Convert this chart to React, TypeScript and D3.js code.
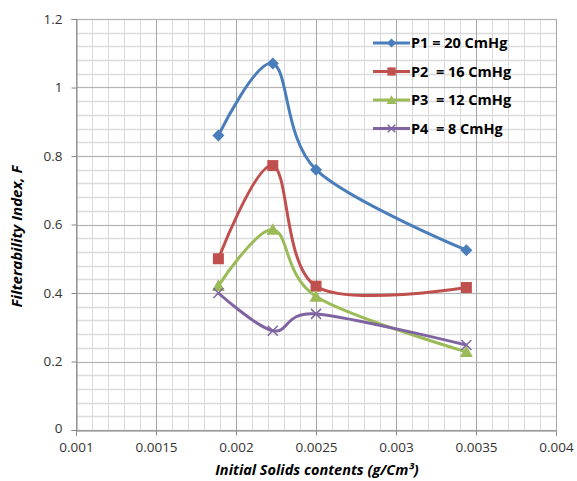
import React, { useEffect, useRef } from 'react'
import * as d3 from 'd3'

// initial solids contents (g/Cm3), shared by all series
const solids = [0.00189, 0.00223, 0.0025, 0.00344]

const p1 = [0.86, 1.07, 0.76, 0.525]
const p2 = [0.5, 0.772, 0.42, 0.416]
const p3 = [0.421, 0.585, 0.39, 0.228]
const p4 = [0.4, 0.29, 0.339, 0.248]

const seriesNames = ['P1 = 20 CmHg', 'P2  = 16 CmHg', 'P3  = 12 CmHg', 'P4  = 8 CmHg']
const seriesColors = ['#4a7ebb', '#c0504d', '#9bbb59', '#8064a2']
const seriesMarkers = ['diamond', 'square', 'triangle', 'cross']

const xTicks = [0.001, 0.0015, 0.002, 0.0025, 0.003, 0.0035, 0.004]
const xTickLabels = ['0.001', '0.0015', '0.002', '0.0025', '0.003', '0.0035', '0.004']
const yTicks = [0, 0.2, 0.4, 0.6, 0.8, 1, 1.2]
const yTickLabels = ['0', '0.2', '0.4', '0.6', '0.8', '1', '1.2']

const W = 577
const H = 481
const margin = { top: 19, right: 21, bottom: 51, left: 76 }
const FONT = '"Open Sans", "Noto Sans", sans-serif'

const App = () => {
  const ref = useRef<SVGSVGElement>(null)

  useEffect(() => {
    draw()
  })

  const draw = () => {
    const svg = d3.select(ref.current)
    svg.selectAll('*').remove()

    const width = W - margin.left - margin.right
    const height = H - margin.top - margin.bottom

    const x = d3.scaleLinear().domain([0.001, 0.004]).range([margin.left, margin.left + width])
    const y = d3.scaleLinear().domain([0, 1.2]).range([margin.top + height, margin.top])

    // minor grid
    const minorX = d3.range(0, 31).map((i) => 0.001 + i * 0.0001)
    const minorY = d3.range(0, 31).map((i) => i * 0.04)
    const grid = svg.append('g')
    grid
      .selectAll('line.mx')
      .data(minorX)
      .enter()
      .append('line')
      .attr('x1', (d) => Math.round(x(d)) + 0.5)
      .attr('x2', (d) => Math.round(x(d)) + 0.5)
      .attr('y1', y(0))
      .attr('y2', y(1.2))
      .attr('stroke', '#d9d9d9')
    grid
      .selectAll('line.my')
      .data(minorY)
      .enter()
      .append('line')
      .attr('x1', x(0.001))
      .attr('x2', x(0.004))
      .attr('y1', (d) => Math.round(y(d)) + 0.5)
      .attr('y2', (d) => Math.round(y(d)) + 0.5)
      .attr('stroke', '#dcdcdc')
      .attr('stroke-width', 1.5)
    // major grid
    grid
      .selectAll('line.Mx')
      .data(xTicks)
      .enter()
      .append('line')
      .attr('x1', (d) => Math.round(x(d)) + 0.5)
      .attr('x2', (d) => Math.round(x(d)) + 0.5)
      .attr('y1', y(0))
      .attr('y2', y(1.2))
      .attr('stroke', '#a6a6a6')
    grid
      .selectAll('line.My')
      .data(yTicks)
      .enter()
      .append('line')
      .attr('x1', x(0.001))
      .attr('x2', x(0.004))
      .attr('y1', (d) => Math.round(y(d)) + 0.5)
      .attr('y2', (d) => Math.round(y(d)) + 0.5)
      .attr('stroke', '#b3b3b3')

    // axes
    const xAxis = svg
      .append('g')
      .attr('transform', `translate(0,${Math.round(y(0)) + 0.5})`)
      .call(
        d3
          .axisBottom(x)
          .tickValues(xTicks)
          .tickFormat((_, i) => xTickLabels[i])
          .tickSize(5)
          .tickPadding(7)
      )
    const yAxis = svg
      .append('g')
      .attr('transform', `translate(${Math.round(x(0.001)) + 0.5},0)`)
      .call(
        d3
          .axisLeft(y)
          .tickValues(yTicks)
          .tickFormat((_, i) => yTickLabels[i])
          .tickSize(5)
          .tickPadding(9)
      )
    ;[xAxis, yAxis].forEach((a) => {
      a.select('.domain').attr('stroke', '#868686')
      a.selectAll('.tick line').attr('stroke', '#868686')
      a.selectAll('text')
        .attr('font-family', FONT)
        .attr('font-size', 13.5)
        .attr('fill', '#333')
    })
    // the lowest y label sits a touch higher so it clears the first x label
    yAxis.select('.tick text').attr('dy', '0.2em')

    // series
    const all = [p1, p2, p3, p4]
    const line = d3
      .line<number>()
      .x((_, i) => x(solids[i]))
      .y((d) => y(d))
      .curve(d3.curveCatmullRom.alpha(0))

    all.forEach((vals, si) => {
      const c = seriesColors[si]
      svg
        .append('path')
        .attr('d', line(vals))
        .attr('fill', 'none')
        .attr('stroke', c)
        .attr('stroke-width', 3)
      const g = svg.append('g')
      vals.forEach((v, i) => {
        drawMarker(g, seriesMarkers[si], x(solids[i]), y(v), c, 1)
      })
    })

    // legend
    const lg = svg.append('g')
    seriesNames.forEach((name, i) => {
      const ly = 43 + i * 28.5
      lg.append('line')
        .attr('x1', 373)
        .attr('x2', 410)
        .attr('y1', ly)
        .attr('y2', ly)
        .attr('stroke', seriesColors[i])
        .attr('stroke-width', 3)
      drawMarker(lg, seriesMarkers[i], 391.5, ly, seriesColors[i], 0.75)
      lg.append('text')
        .attr('x', 411)
        .attr('y', ly + 5)
        .attr('font-family', FONT)
        .attr('font-size', 14.5)
        .attr('font-weight', 'bold')
        .attr('fill', '#000')
        .style('white-space', 'pre')
        .text(name)
    })

    // axis titles
    svg
      .append('text')
      .attr('x', x(0.0025) + 1)
      .attr('y', 475)
      .attr('text-anchor', 'middle')
      .attr('font-family', FONT)
      .attr('font-size', 14.5)
      .attr('font-weight', 'bold')
      .attr('font-style', 'italic')
      .text('Initial Solids contents (g/Cm³)')
    svg
      .append('text')
      .attr('transform', `translate(22,${y(0.565)}) rotate(-90)`)
      .attr('text-anchor', 'middle')
      .attr('font-family', FONT)
      .attr('font-size', 15)
      .attr('font-weight', 'bold')
      .attr('font-style', 'italic')
      .text('Filterability Index, F')
  }

  return (
    <svg
      ref={ref}
      width={W}
      height={H}
      style={{ position: 'absolute', left: 0, top: 0, background: '#fff' }}
    />
  )
}

const drawMarker = (
  g: d3.Selection<SVGGElement, unknown, null, undefined>,
  kind: string,
  cx: number,
  cy: number,
  color: string,
  k: number
) => {
  if (kind === 'diamond') {
    const r = 6 * k
    g.append('path')
      .attr('d', `M${cx},${cy - r}L${cx + r},${cy}L${cx},${cy + r}L${cx - r},${cy}Z`)
      .attr('fill', color)
  } else if (kind === 'square') {
    const s = 11 * k
    g.append('rect')
      .attr('x', cx - s / 2)
      .attr('y', cy - s / 2)
      .attr('width', s)
      .attr('height', s)
      .attr('fill', color)
  } else if (kind === 'triangle') {
    const r = 6.5 * k
    g.append('path')
      .attr('d', `M${cx},${cy - r}L${cx + r},${cy + r * 0.8}L${cx - r},${cy + r * 0.8}Z`)
      .attr('fill', color)
  } else {
    const r = 5 * k
    g.append('path')
      .attr('d', `M${cx - r},${cy - r}L${cx + r},${cy + r}M${cx + r},${cy - r}L${cx - r},${cy + r}`)
      .attr('stroke', color)
      .attr('stroke-width', 1.5)
  }
}

export default App
